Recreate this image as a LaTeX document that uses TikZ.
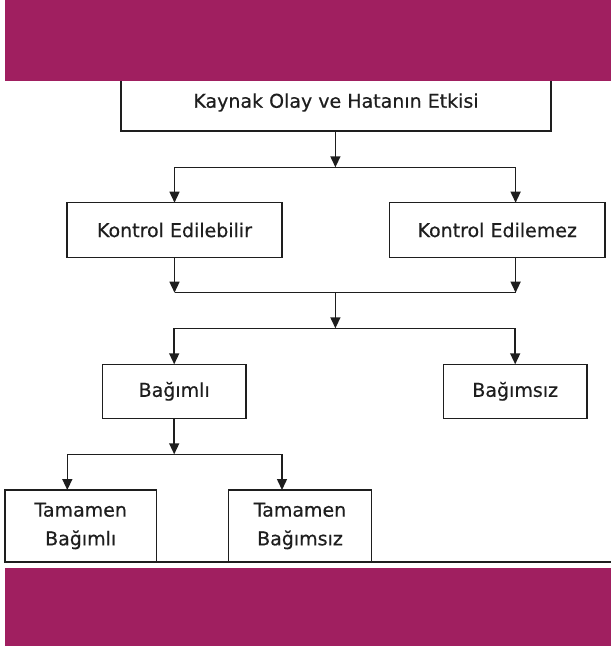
\documentclass[tikz,border=0pt]{standalone}
\usepackage{fontspec}
\setmainfont{DejaVu Sans}[FakeBold=0.4]
\usetikzlibrary{arrows.meta}
\definecolor{bandcolor}{RGB}{160,31,96}
\definecolor{inkgray}{RGB}{30,30,30}
\begin{document}
\begin{tikzpicture}[x=1pt,y=-1pt,
  box/.style={draw=inkgray, line width=1.5pt, fill=white, inner sep=0pt, outer sep=0pt,
              align=center, text=inkgray, font=\fontsize{19}{28.7}\selectfont},
  link/.style={draw=inkgray, line width=1.5pt},
  arrow/.style={link, -{Triangle[length=11pt,width=10pt]}}]
\useasboundingbox (0,0) rectangle (611,646);

% column positions of the connectors
\coordinate (lc) at (175,0);
\coordinate (rc) at (515.6,0);
\coordinate (tl) at (67.3,0);
\coordinate (tr) at (282,0);

% boxes
\node[box, minimum width=430pt, minimum height=57pt] (src) at (336,102.5) {Kaynak Olay ve Hatanın Etkisi};
\node[box, minimum width=215pt, minimum height=54.6pt] (kel) at (174.5,230) {Kontrol Edilebilir};
\node[box, minimum width=215.5pt, minimum height=54.6pt] (kem) at (497.25,230) {Kontrol Edilemez};
\node[box, minimum width=143.7pt, minimum height=54pt] (dep) at (174.2,391.3) {Bağımlı};
\node[box, minimum width=143.2pt, minimum height=54pt] (ind) at (515.2,391.3) {Bağımsız};
\node[box, minimum width=151.4pt, minimum height=72pt] (tdep) at (80.7,526) {Tamamen\\Bağımlı};
\node[box, minimum width=143.2pt, minimum height=72pt] (tind) at (300,526) {Tamamen\\Bağımsız};

% junction points
\coordinate (j1) at (335.4,167.3);
\coordinate (m1) at (335.4,292.7);
\coordinate (j2) at (335.4,328.3);
\coordinate (j3) at (174.2,454.3);

% connectors
\draw[arrow] (j1 |- src.south) -- (j1);
\draw[arrow] (j1) -| (kel.north);
\draw[arrow] (j1) -| (rc |- kem.north);
\draw[arrow] (kel.south) -- (kel.south |- m1);
\draw[arrow] (rc |- kem.south) -- (rc |- m1);
\draw[link] (kel.south |- m1) -- (rc |- m1);
\draw[arrow] (m1) -- (j2);
\draw[arrow] (j2) -| (dep.north);
\draw[arrow] (j2) -| (ind.north);
\draw[arrow] (dep.south) -- (j3);
\draw[arrow] (j3) -| (tl |- tdep.north);
\draw[arrow] (j3) -| (tr |- tind.north);

% base line under the lowest boxes
\coordinate (bl) at (5,562);
\coordinate (br) at (611,562);
\draw[link] (bl) -- (br);

% coloured bands
\fill[bandcolor] (5,0) rectangle (611,80.7);
\fill[bandcolor] (5,568) rectangle (611,646);
\end{tikzpicture}
\end{document}
